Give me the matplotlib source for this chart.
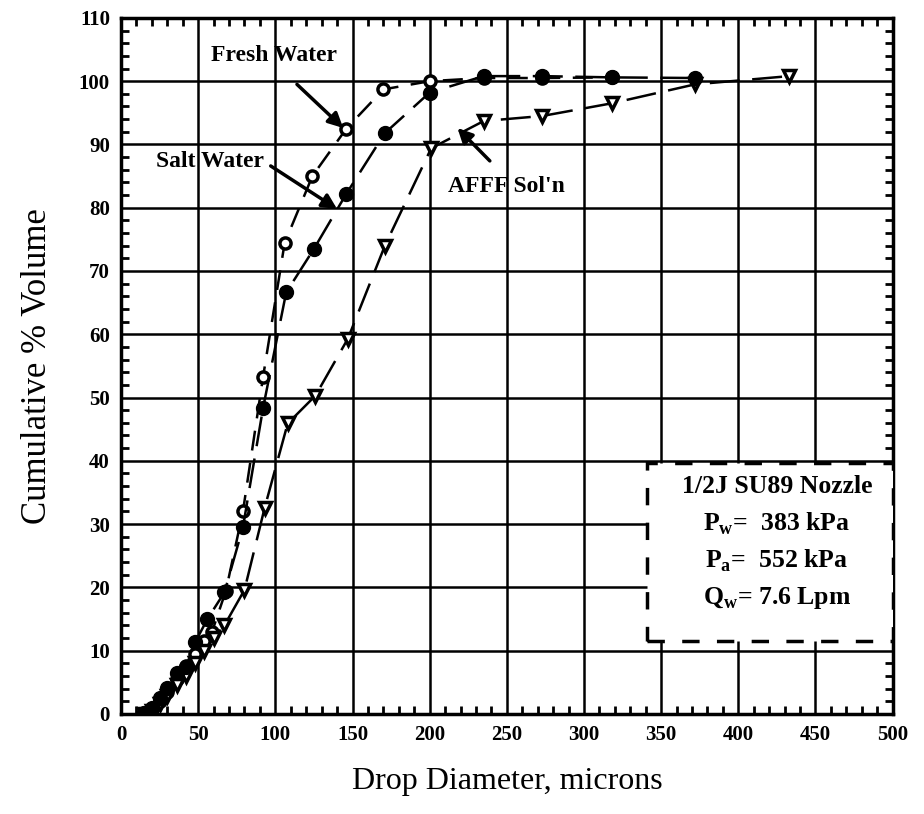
import numpy as np
import matplotlib
matplotlib.use('Agg')
import matplotlib.pyplot as plt
from matplotlib.patches import Rectangle
from matplotlib.ticker import MultipleLocator

plt.rcParams['font.family'] = 'Liberation Serif'
plt.rcParams['mathtext.fontset'] = 'custom'
plt.rcParams['mathtext.rm'] = 'Liberation Serif:bold'
plt.rcParams['mathtext.bf'] = 'Liberation Serif:bold'

# Dane (średnica kropli w mikronach, skumulowany % objętości)
fresh_x = [15, 20, 25, 30, 36, 42, 48, 54, 59, 68, 79, 92, 106, 124, 146, 170, 200, 235, 273, 318]
fresh_y = [0.2, 0.8, 2.0, 3.5, 5.5, 7.5, 9.5, 11.5, 13.0, 19.5, 32.0, 53.2, 74.4, 85.0, 92.5, 98.7, 100.0, 100.5, 100.5, 100.6]

salt_x = [15, 20, 25, 30, 36, 42, 48, 56, 67, 79, 92, 107, 125, 146, 171, 200, 235, 273, 318, 372]
salt_y = [0.1, 1.0, 2.5, 4.1, 6.5, 7.4, 11.3, 15.0, 19.2, 29.5, 48.3, 66.6, 73.5, 82.2, 91.8, 98.2, 100.8, 100.8, 100.6, 100.5]

afff_x = [15, 20, 25, 30, 36, 42, 48, 54, 60, 67, 80, 93, 108, 126, 147, 171, 201, 235, 273, 318, 372, 433]
afff_y = [0.0, 0.5, 1.5, 2.8, 4.5, 6.0, 8.0, 10.0, 12.0, 14.0, 19.6, 32.5, 45.9, 50.3, 59.3, 74.0, 89.4, 93.7, 94.5, 96.5, 99.5, 100.8]

# Etykiety: (tekst, pozycja tekstu, początek strzałki, grot strzałki)
labels = [
    ('Fresh Water', (99, 104), (114, 99.5), (144, 92.6)),
    ('Salt Water', (57.5, 87.3), (97, 86.6), (140, 79.8)),
    ("AFFF Sol'n", (249.5, 83.4), (239, 87.4), (218, 92.6)),
]

box_lines = ['1/2J SU89 Nozzle',
             r'P$_\mathbf{w}$=  383 kPa',
             r'P$_\mathbf{a}$=  552 kPa',
             r'Q$_\mathbf{w}$= 7.6 Lpm']

fig = plt.figure(figsize=(9.24, 8.14), dpi=100)
ax = fig.add_axes([0.131, 0.123, 0.835, 0.855])

ax.set_xlim(0, 500)
ax.set_ylim(0, 110)
ax.xaxis.set_major_locator(MultipleLocator(50))
ax.xaxis.set_minor_locator(MultipleLocator(10))
ax.yaxis.set_major_locator(MultipleLocator(10))
ax.yaxis.set_minor_locator(MultipleLocator(2))
ax.tick_params(which='both', direction='in', top=True, right=True, width=2, color='black')
ax.tick_params(which='major', length=0, labelsize=15, pad=8)
ax.tick_params(which='minor', length=6)
for lab in ax.get_xticklabels() + ax.get_yticklabels():
    lab.set_fontweight('bold')
for s in ax.spines.values():
    s.set_linewidth(2.5)

ax.grid(True, which='major', color='black', linewidth=1.8, zorder=1)
ax.set_axisbelow(True)

# Krzywe
ax.plot(fresh_x, fresh_y, color='black', lw=1.8, dashes=(8, 5),
        marker='o', ms=8, mfc='white', mec='black', mew=2.5, zorder=3)
ax.plot(salt_x, salt_y, color='black', lw=1.8, dashes=(12, 5),
        marker='o', ms=10, mfc='black', mec='black', zorder=4)
ax.plot(afff_x, afff_y, color='black', lw=1.8, dashes=(12, 5),
        marker='v', ms=9, mfc='white', mec='black', mew=2.5, zorder=3)

# Opisy ze strzałkami
for txt, pos, start, tip in labels:
    ax.text(pos[0], pos[1], txt, ha='center', va='center', fontsize=17,
            fontweight='bold', zorder=6)
    ax.annotate('', xy=tip, xytext=start,
                arrowprops=dict(arrowstyle='-|>', color='black', lw=2.5,
                                mutation_scale=22, shrinkA=0, shrinkB=0), zorder=6)

# Ramka z parametrami dyszy
ax.add_patch(Rectangle((341, 11.5), 159, 28.1, facecolor='white', edgecolor='black',
                       lw=2.5, ls=(0, (5, 5)), zorder=5))
for i, txt in enumerate(box_lines):
    ax.text(425, 36.0 - 5.9 * i, txt, ha='center', va='center', fontsize=18.5,
            fontweight='bold', zorder=6)

ax.set_xlabel('Drop Diameter, microns', fontsize=23, labelpad=16)
ax.set_ylabel('Cumulative % Volume', fontsize=25, labelpad=18)

fig.savefig('out.png', dpi=100)
